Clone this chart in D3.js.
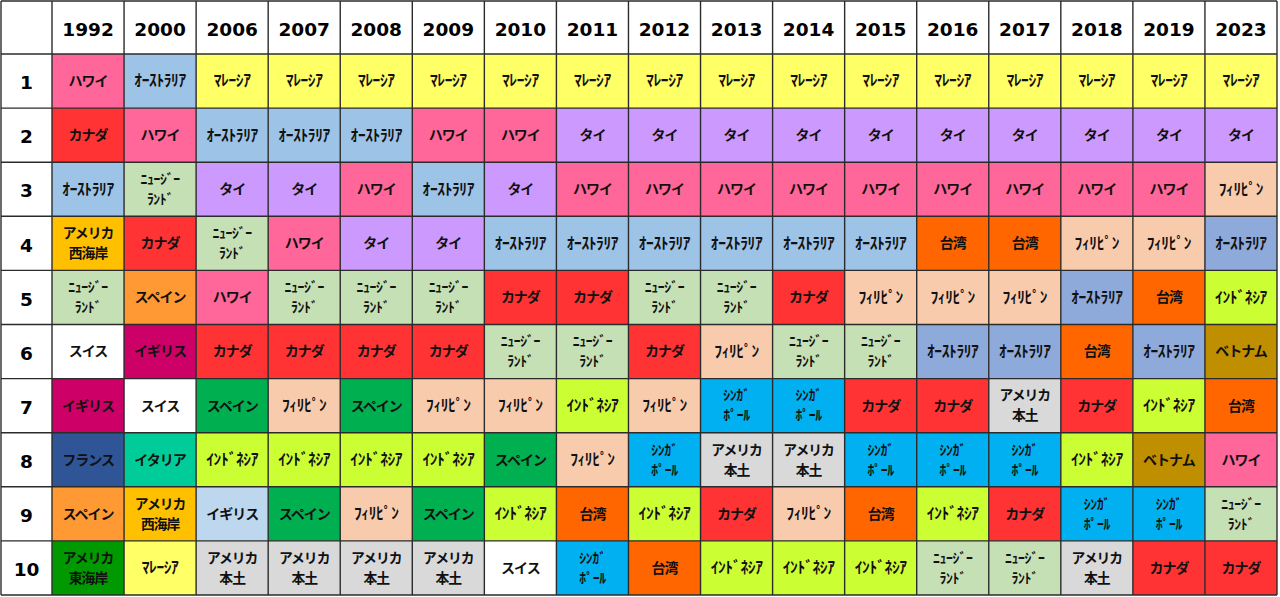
<!DOCTYPE html>
<html><head><meta charset="utf-8">
<script src="https://cdn.jsdelivr.net/npm/d3@7"></script>
<style>
html,body{margin:0;padding:0;background:#fff;}
svg{display:block;}
</style></head>
<body><svg id="chart" width="1280" height="597"></svg>
<script>
const years = ["1992","2000","2006","2007","2008","2009","2010","2011","2012","2013","2014","2015","2016","2017","2018","2019","2023"];
const ranks = [1,2,3,4,5,6,7,8,9,10];

const r1992 = ["ハワイ","カナダ","ｵｰｽﾄﾗﾘｱ","アメリカ西海岸","ﾆｭｰｼﾞｰﾗﾝﾄﾞ","スイス","イギリス","フランス","スペイン","アメリカ東海岸"];
const r2000 = ["ｵｰｽﾄﾗﾘｱ","ハワイ","ﾆｭｰｼﾞｰﾗﾝﾄﾞ","カナダ","スペイン","イギリス","スイス","イタリア","アメリカ西海岸","ﾏﾚｰｼｱ"];
const r2006 = ["ﾏﾚｰｼｱ","ｵｰｽﾄﾗﾘｱ","タイ","ﾆｭｰｼﾞｰﾗﾝﾄﾞ","ハワイ","カナダ","スペイン","ｲﾝﾄﾞﾈｼｱ","イギリス","アメリカ本土"];
const r2007 = ["ﾏﾚｰｼｱ","ｵｰｽﾄﾗﾘｱ","タイ","ハワイ","ﾆｭｰｼﾞｰﾗﾝﾄﾞ","カナダ","ﾌｨﾘﾋﾟﾝ","ｲﾝﾄﾞﾈｼｱ","スペイン","アメリカ本土"];
const r2008 = ["ﾏﾚｰｼｱ","ｵｰｽﾄﾗﾘｱ","ハワイ","タイ","ﾆｭｰｼﾞｰﾗﾝﾄﾞ","カナダ","スペイン","ｲﾝﾄﾞﾈｼｱ","ﾌｨﾘﾋﾟﾝ","アメリカ本土"];
const r2009 = ["ﾏﾚｰｼｱ","ハワイ","ｵｰｽﾄﾗﾘｱ","タイ","ﾆｭｰｼﾞｰﾗﾝﾄﾞ","カナダ","ﾌｨﾘﾋﾟﾝ","ｲﾝﾄﾞﾈｼｱ","スペイン","アメリカ本土"];
const r2010 = ["ﾏﾚｰｼｱ","ハワイ","タイ","ｵｰｽﾄﾗﾘｱ","カナダ","ﾆｭｰｼﾞｰﾗﾝﾄﾞ","ﾌｨﾘﾋﾟﾝ","スペイン","ｲﾝﾄﾞﾈｼｱ","スイス"];
const r2011 = ["ﾏﾚｰｼｱ","タイ","ハワイ","ｵｰｽﾄﾗﾘｱ","カナダ","ﾆｭｰｼﾞｰﾗﾝﾄﾞ","ｲﾝﾄﾞﾈｼｱ","ﾌｨﾘﾋﾟﾝ","台湾","ｼﾝｶﾞﾎﾟｰﾙ"];
const r2012 = ["ﾏﾚｰｼｱ","タイ","ハワイ","ｵｰｽﾄﾗﾘｱ","ﾆｭｰｼﾞｰﾗﾝﾄﾞ","カナダ","ﾌｨﾘﾋﾟﾝ","ｼﾝｶﾞﾎﾟｰﾙ","ｲﾝﾄﾞﾈｼｱ","台湾"];
const r2013 = ["ﾏﾚｰｼｱ","タイ","ハワイ","ｵｰｽﾄﾗﾘｱ","ﾆｭｰｼﾞｰﾗﾝﾄﾞ","ﾌｨﾘﾋﾟﾝ","ｼﾝｶﾞﾎﾟｰﾙ","アメリカ本土","カナダ","ｲﾝﾄﾞﾈｼｱ"];
const r2014 = ["ﾏﾚｰｼｱ","タイ","ハワイ","ｵｰｽﾄﾗﾘｱ","カナダ","ﾆｭｰｼﾞｰﾗﾝﾄﾞ","ｼﾝｶﾞﾎﾟｰﾙ","アメリカ本土","ﾌｨﾘﾋﾟﾝ","ｲﾝﾄﾞﾈｼｱ"];
const r2015 = ["ﾏﾚｰｼｱ","タイ","ハワイ","ｵｰｽﾄﾗﾘｱ","ﾌｨﾘﾋﾟﾝ","ﾆｭｰｼﾞｰﾗﾝﾄﾞ","カナダ","ｼﾝｶﾞﾎﾟｰﾙ","台湾","ｲﾝﾄﾞﾈｼｱ"];
const r2016 = ["ﾏﾚｰｼｱ","タイ","ハワイ","台湾","ﾌｨﾘﾋﾟﾝ","ｵｰｽﾄﾗﾘｱ","カナダ","ｼﾝｶﾞﾎﾟｰﾙ","ｲﾝﾄﾞﾈｼｱ","ﾆｭｰｼﾞｰﾗﾝﾄﾞ"];
const r2017 = ["ﾏﾚｰｼｱ","タイ","ハワイ","台湾","ﾌｨﾘﾋﾟﾝ","ｵｰｽﾄﾗﾘｱ","アメリカ本土","ｼﾝｶﾞﾎﾟｰﾙ","カナダ","ﾆｭｰｼﾞｰﾗﾝﾄﾞ"];
const r2018 = ["ﾏﾚｰｼｱ","タイ","ハワイ","ﾌｨﾘﾋﾟﾝ","ｵｰｽﾄﾗﾘｱ","台湾","カナダ","ｲﾝﾄﾞﾈｼｱ","ｼﾝｶﾞﾎﾟｰﾙ","アメリカ本土"];
const r2019 = ["ﾏﾚｰｼｱ","タイ","ハワイ","ﾌｨﾘﾋﾟﾝ","台湾","ｵｰｽﾄﾗﾘｱ","ｲﾝﾄﾞﾈｼｱ","ベトナム","ｼﾝｶﾞﾎﾟｰﾙ","カナダ"];
const r2023 = ["ﾏﾚｰｼｱ","タイ","ﾌｨﾘﾋﾟﾝ","ｵｰｽﾄﾗﾘｱ","ｲﾝﾄﾞﾈｼｱ","ベトナム","台湾","ハワイ","ﾆｭｰｼﾞｰﾗﾝﾄﾞ","カナダ"];

const rankings = [r1992,r2000,r2006,r2007,r2008,r2009,r2010,r2011,r2012,r2013,r2014,r2015,r2016,r2017,r2018,r2019,r2023];

// cell fill colours (style)
const baseColor = {
  "ハワイ":"#ff6699","カナダ":"#ff3333","ｵｰｽﾄﾗﾘｱ":"#9dc3e6","アメリカ西海岸":"#ffc000",
  "ﾆｭｰｼﾞｰﾗﾝﾄﾞ":"#c5e0b4","スイス":"#ffffff","イギリス":"#cc0066","フランス":"#2f5597",
  "スペイン":"#00b050","アメリカ東海岸":"#009900","イタリア":"#00cc99","ﾏﾚｰｼｱ":"#ffff66",
  "タイ":"#cc99ff","ｲﾝﾄﾞﾈｼｱ":"#ccff33","アメリカ本土":"#d9d9d9","ﾌｨﾘﾋﾟﾝ":"#f8cbad",
  "台湾":"#ff6600","ｼﾝｶﾞﾎﾟｰﾙ":"#00b0f0","ベトナム":"#bf8f00"
};
const overrideColor = {
  "1992|スペイン":"#ff9933","2000|スペイン":"#ff9933",
  "2006|イギリス":"#bdd7ee",
  "2016|ｵｰｽﾄﾗﾘｱ":"#8eaadb","2017|ｵｰｽﾄﾗﾘｱ":"#8eaadb","2018|ｵｰｽﾄﾗﾘｱ":"#8eaadb",
  "2019|ｵｰｽﾄﾗﾘｱ":"#8eaadb","2023|ｵｰｽﾄﾗﾘｱ":"#8eaadb"
};
const lineBreaks = {
  "アメリカ西海岸":["アメリカ","西海岸"],"アメリカ東海岸":["アメリカ","東海岸"],
  "アメリカ本土":["アメリカ","本土"],"ﾆｭｰｼﾞｰﾗﾝﾄﾞ":["ﾆｭｰｼﾞｰ","ﾗﾝﾄﾞ"],
  "ｼﾝｶﾞﾎﾟｰﾙ":["ｼﾝｶﾞ","ﾎﾟｰﾙ"]
};

const svg = d3.select("#chart");
const gx0 = 1, gx1 = 1277, gy0 = 1, gy1 = 595;
const firstColW = 51, headerH = 53;

const x = d3.scaleBand().domain(years).range([gx0+firstColW, gx1]);
const y = d3.scaleBand().domain(ranks).range([gy0+headerH, gy1]);

const cells = [];
years.forEach((yr,i)=>{
  rankings[i].forEach((name,j)=>{
    cells.push({year:yr, rank:ranks[j], name});
  });
});

const stroke = "#2b2b2b";
const sw = 1.4;
const cjk = "'Noto Sans CJK JP', sans-serif";
const isHalf = s => /[\uFF61-\uFF9F]/.test(s);

svg.append("rect").attr("x",gx0).attr("y",gy0).attr("width",gx1-gx0).attr("height",gy1-gy0)
  .attr("fill","#fff");

const g = svg.append("g");
g.selectAll("rect.cell").data(cells).join("rect")
  .attr("class","cell")
  .attr("x",d=>x(d.year)).attr("y",d=>y(d.rank))
  .attr("width",x.bandwidth()).attr("height",y.bandwidth())
  .attr("fill",d=>overrideColor[d.year+"|"+d.name] || baseColor[d.name]);

// one text element per line
const lines = [];
cells.forEach(d=>{
  const parts = lineBreaks[d.name] || [d.name];
  parts.forEach((p,k)=>lines.push({...d, text:p, k, n:parts.length}));
});
g.selectAll("text.cell").data(lines).join("text")
  .attr("class","cell")
  .attr("x",d=>x(d.year)+x.bandwidth()/2)
  .attr("y",d=>y(d.rank)+y.bandwidth()/2 + (d.k-(d.n-1)/2)*20)
  .attr("dy","0.35em")
  .attr("text-anchor","middle")
  .attr("font-family",cjk).attr("font-weight","bold")
  .attr("font-size",d=>d.n>1 ? 13.8 : (isHalf(d.name)? 15.5 : 14))
  .attr("letter-spacing",d=>isHalf(d.name)? -0.4 : -1)
  .attr("fill","#111")
  .text(d=>d.text);

svg.append("g").selectAll("text").data(years).join("text")
  .attr("x",d=>x(d)+x.bandwidth()/2).attr("y",gy0+headerH/2+1.5)
  .attr("dy","0.36em").attr("text-anchor","middle")
  .attr("font-family","'DejaVu Sans', Verdana, sans-serif").attr("font-weight","bold")
  .attr("font-size",18.5).attr("fill","#000").text(d=>d);

svg.append("g").selectAll("text").data(ranks).join("text")
  .attr("x",gx0+firstColW/2).attr("y",d=>y(d)+y.bandwidth()/2+1.5)
  .attr("dy","0.36em").attr("text-anchor","middle")
  .attr("font-family","'DejaVu Sans', Verdana, sans-serif").attr("font-weight","bold")
  .attr("font-size",18.5).attr("fill","#000").text(d=>d);

const grid = svg.append("g").attr("stroke",stroke).attr("stroke-width",sw);
const xs = [gx0, gx0+firstColW, ...years.map(d=>x(d)+x.bandwidth())];
const ys = [gy0, gy0+headerH, ...ranks.map(d=>y(d)+y.bandwidth())];
grid.selectAll("line.v").data(xs).join("line").attr("class","v")
  .attr("x1",d=>d).attr("x2",d=>d).attr("y1",gy0).attr("y2",gy1);
grid.selectAll("line.h").data(ys).join("line").attr("class","h")
  .attr("y1",d=>d).attr("y2",d=>d).attr("x1",gx0).attr("x2",gx1);
</script></body></html>
